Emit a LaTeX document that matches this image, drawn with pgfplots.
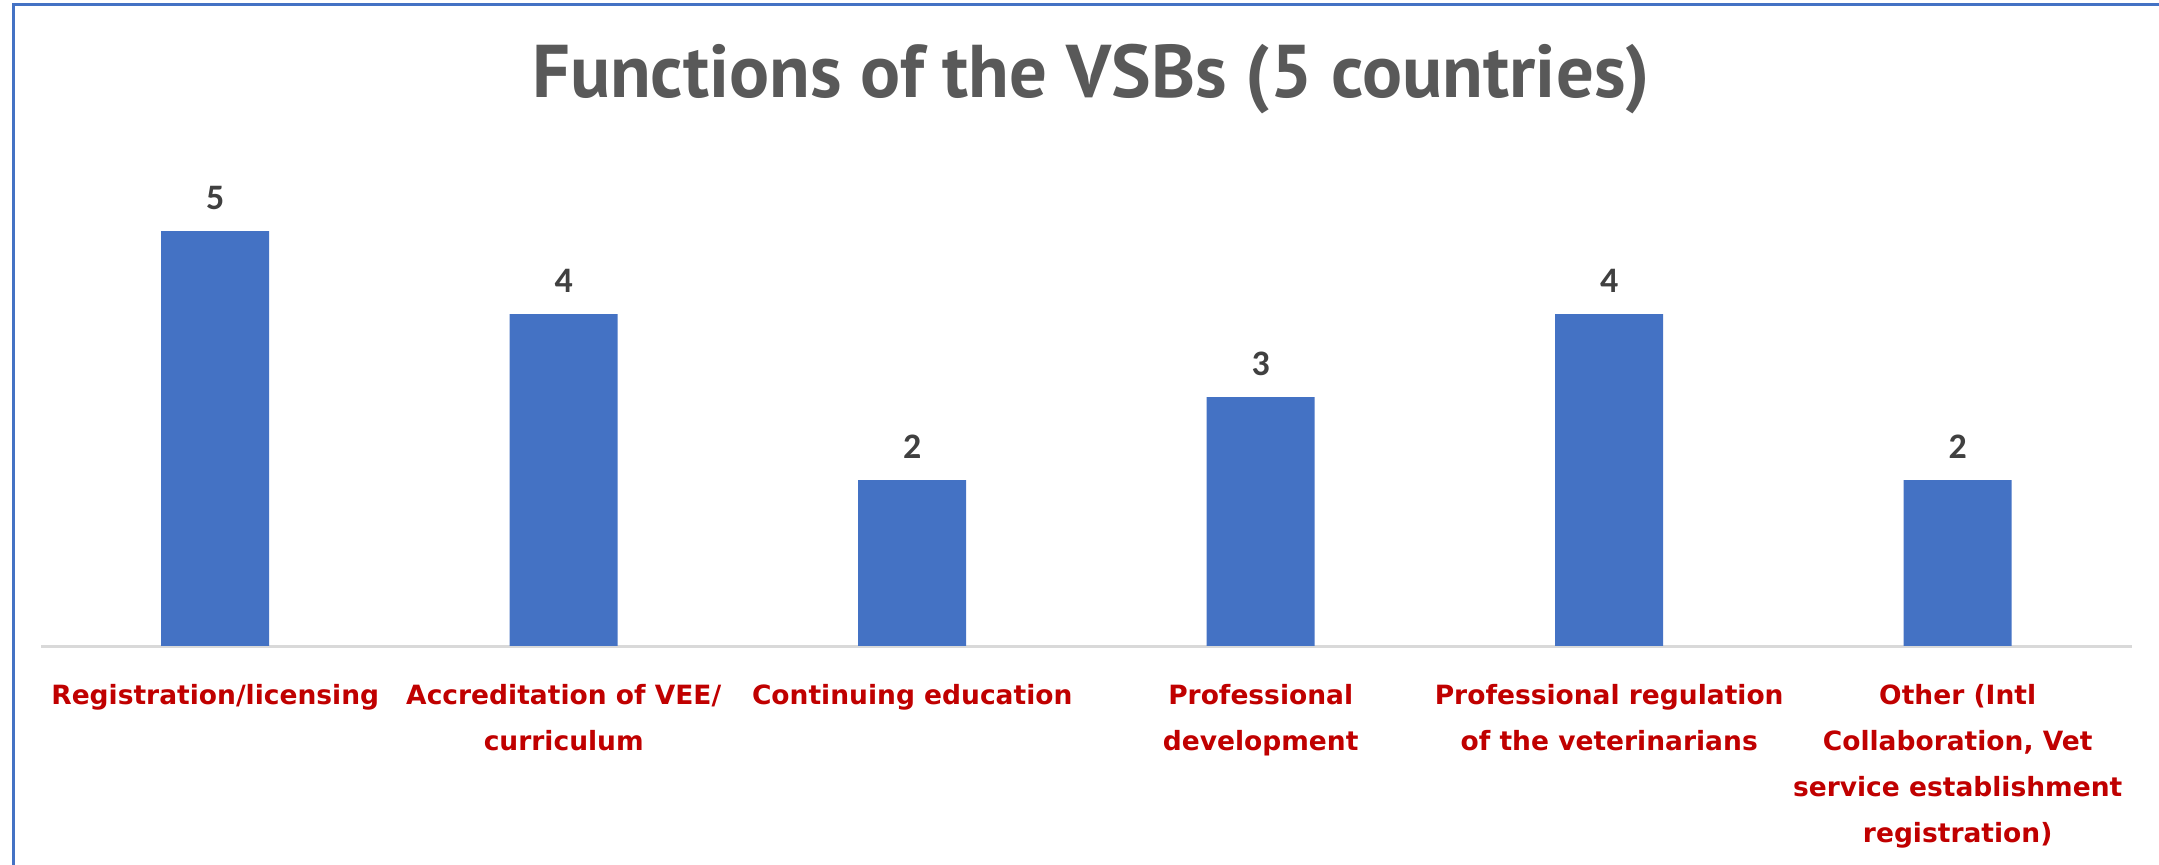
\documentclass[border=0pt]{standalone}
\usepackage{pgfplots}
\pgfplotsset{compat=1.18}
\usepackage{fontspec}
\setmainfont{PT Sans}
\newfontfamily\labelfont{DejaVu Sans}
\newfontfamily\valfont{Carlito}
\definecolor{barblue}{HTML}{4472C4}
\definecolor{labred}{HTML}{C00000}
\definecolor{titlegray}{HTML}{595959}
\definecolor{valgray}{HTML}{404040}
\definecolor{axgray}{HTML}{D9D9D9}
\begin{document}
\begin{tikzpicture}
\useasboundingbox (0,0) rectangle (1079.5bp,432.5bp);
\draw[barblue, line width=1.5bp] (6.5bp,0) -- (6.5bp,430bp) -- (1079.5bp,430bp);
\node[anchor=base, text=titlegray, font=\bfseries\fontsize{37.5}{42}\selectfont] at (545.5bp,383.5bp) {Functions of the VSBs (5 countries)};
\begin{axis}[
  at={(20.5bp,109.5bp)}, anchor=south west,
  scale only axis, width=1045.5bp, height=232.4bp,
  xmin=-0.5, xmax=5.5, ymin=0, ymax=5.6,
  hide y axis,
  axis x line*=bottom,
  x axis line style={-, draw=axgray, line width=1.5bp},
  xtick=data, major tick length=0pt,
  xticklabels={Registration/licensing, {Accreditation of VEE/\\curriculum}, Continuing education, {Professional\\development}, {Professional regulation\\of the veterinarians}, {Other (Intl\\Collaboration, Vet\\service establishment\\registration)}},
  xticklabel style={font=\labelfont\bfseries\fontsize{13.3}{23}\selectfont, text=labred, align=center, anchor=north, inner sep=0pt, yshift=-19bp},
  ybar, bar width=54bp,
  /pgf/number format/assume math mode=true,
  nodes near coords,
  nodes near coords style={font=\valfont\bfseries\fontsize{18}{20}\selectfont, text=valgray, anchor=south, inner sep=0pt, yshift=10.6bp},
]
\addplot[fill=barblue, draw=none] coordinates {(0,5) (1,4) (2,2) (3,3) (4,4) (5,2)};
\end{axis}
\end{tikzpicture}
\end{document}
